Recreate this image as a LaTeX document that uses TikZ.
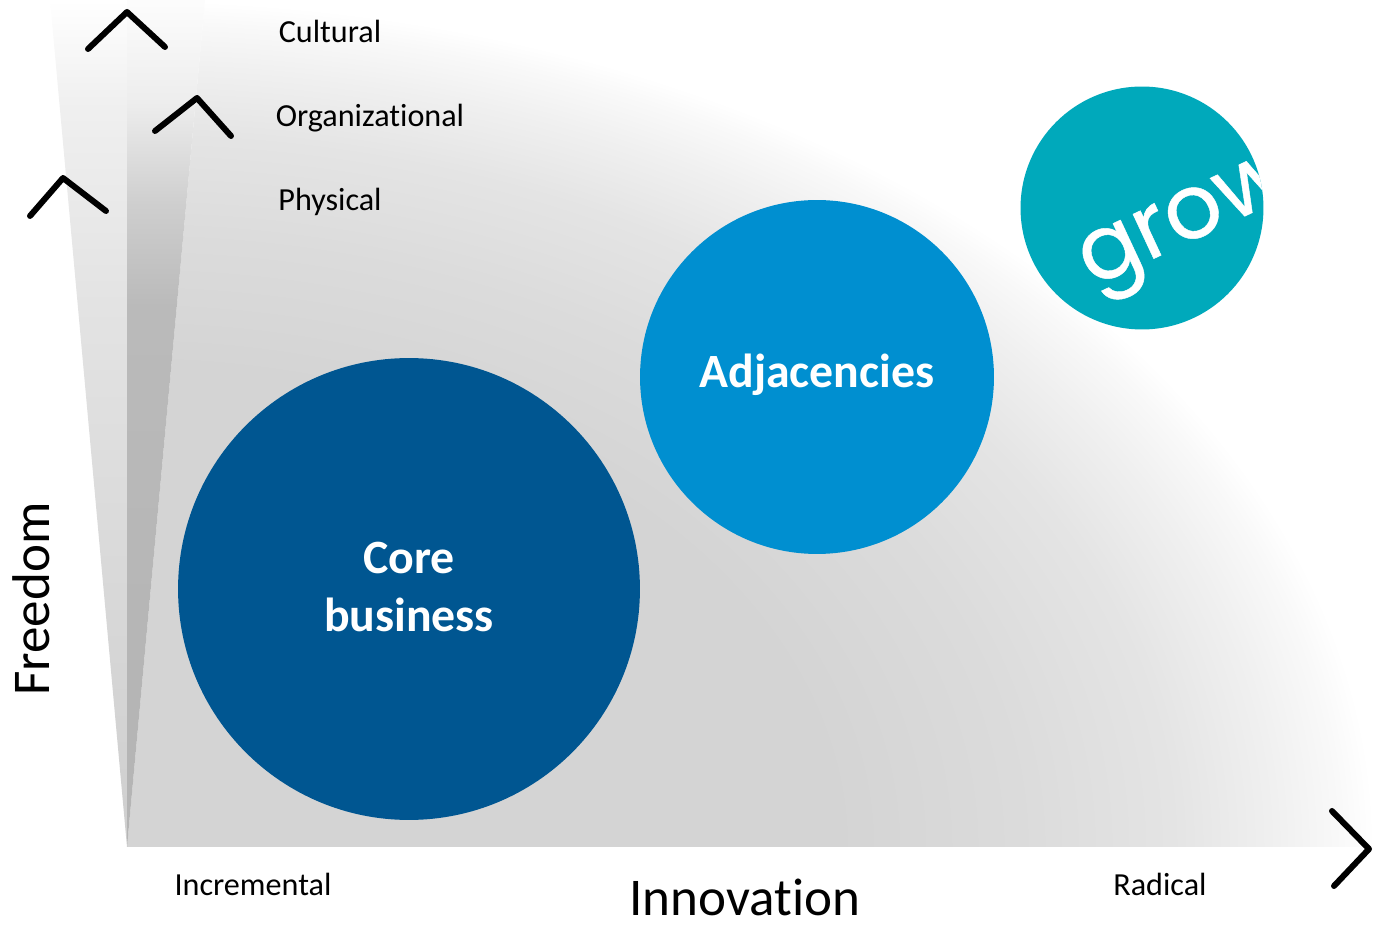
\documentclass[tikz,border=0pt]{standalone}
\usepackage{fontspec}
\setmainfont[Ligatures=NoCommon]{Carlito}
\newfontfamily\logofont[FakeBold=0.5]{Poppins}
\usepackage{tikz}
\definecolor{corecol}{HTML}{005691}
\definecolor{adjcol}{HTML}{008FD0}
\definecolor{growcol}{HTML}{00A9BB}
\pgfdeclareradialshading{planefade}{\pgfpoint{0bp}{0bp}}{color(0bp)=(black!17); color(14bp)=(black!17); color(18bp)=(black!14); color(21bp)=(black!10.5); color(23bp)=(black!6); color(24.3bp)=(black!2.5); color(25bp)=(white); color(50bp)=(white)}
\pgfdeclareverticalshading{leftfade}{100bp}{color(0bp)=(black!19); color(25bp)=(black!19); color(57bp)=(black!11); color(69bp)=(black!6); color(75bp)=(white); color(100bp)=(white)}
\pgfdeclareverticalshading{midfade}{100bp}{color(0bp)=(black!29); color(34bp)=(black!29); color(57bp)=(black!27); color(63bp)=(black!19); color(66bp)=(black!13); color(69bp)=(black!7); color(75bp)=(black!1); color(100bp)=(black!1)}
\tikzset{
	chevron/.style={line width=1.2mm, line cap=round, line join=round},
	blob/.style={circle, inner sep=0pt},
	blobtxt/.style={inner sep=0pt, text=white, align=center, font=\bfseries\fontsize{27.2}{33}\selectfont},
	smalltxt/.style={inner sep=0pt, anchor=base, font=\fontsize{18.3}{20}\selectfont},
	bigtxt/.style={inner sep=0pt, anchor=base, font=\fontsize{30.2}{34}\selectfont}
}

\begin{document}
\begin{tikzpicture}[x=0.02cm, y=-0.02cm]
	\useasboundingbox (0, 0) rectangle (1374, 925);
	
	%%%%% shaded plane %%%%%
	\begin{scope}
		\clip (127, 847) -- (205, 0) -- (1374, 0) -- (1374, 847) -- cycle;
		\shade[shading=planefade] (127, 847) ellipse [x radius=1247, y radius=847];
	\end{scope}
	\shade[shading=leftfade] (127, 847) -- (50, 0) -- (127, 0) -- cycle;
	\shade[shading=midfade] (127, 847) -- (127, 0) -- (205, 0) -- cycle;
	
	%%%%% chevrons %%%%%
	\draw[chevron] (88, 49) -- (127, 12) -- (165, 47);
	\draw[chevron] (155, 131) -- (197, 98) -- (231, 136);
	\draw[chevron] (30, 216) -- (63, 178) -- (106, 211);
	\draw[chevron] (1332, 811) -- (1369, 849) -- (1334, 886);
	
	%%%%% circles %%%%%
	\node[blob, fill=corecol, minimum size=9.24cm] (core) at (409, 589) {};
	\node[blobtxt] (coretxt) at (409, 587) {Core\\business};
	\node[blob, fill=adjcol, minimum size=7.08cm] (adj) at (817, 377) {};
	\node[blobtxt] (adjtxt) at (817, 375) {Adjacencies};
	\node[blob, fill=growcol, minimum size=4.86cm] (grow) at (1142, 208) {};
	\begin{scope}
		\clip (1142, 208) circle (121.5);
		\node[inner sep=0pt, text=white, rotate=25, font=\logofont\fontsize{51}{60}\selectfont] (growtxt) at (1189, 228) {grow};
	\end{scope}
	
	%%%%% labels %%%%%
	\node[smalltxt] (cultural) at (330, 43) {Cultural};
	\node[smalltxt] (organizational) at (370, 127) {Organizational};
	\node[smalltxt] (physical) at (330, 211) {Physical};
	\node[smalltxt] (incremental) at (253, 896) {Incremental};
	\node[smalltxt] (radical) at (1160, 896) {Radical};
	\node[bigtxt] (innovation) at (745, 916) {Innovation};
	\node[bigtxt, rotate=90] (freedom) at (50, 599) {Freedom};
\end{tikzpicture}
\end{document}
